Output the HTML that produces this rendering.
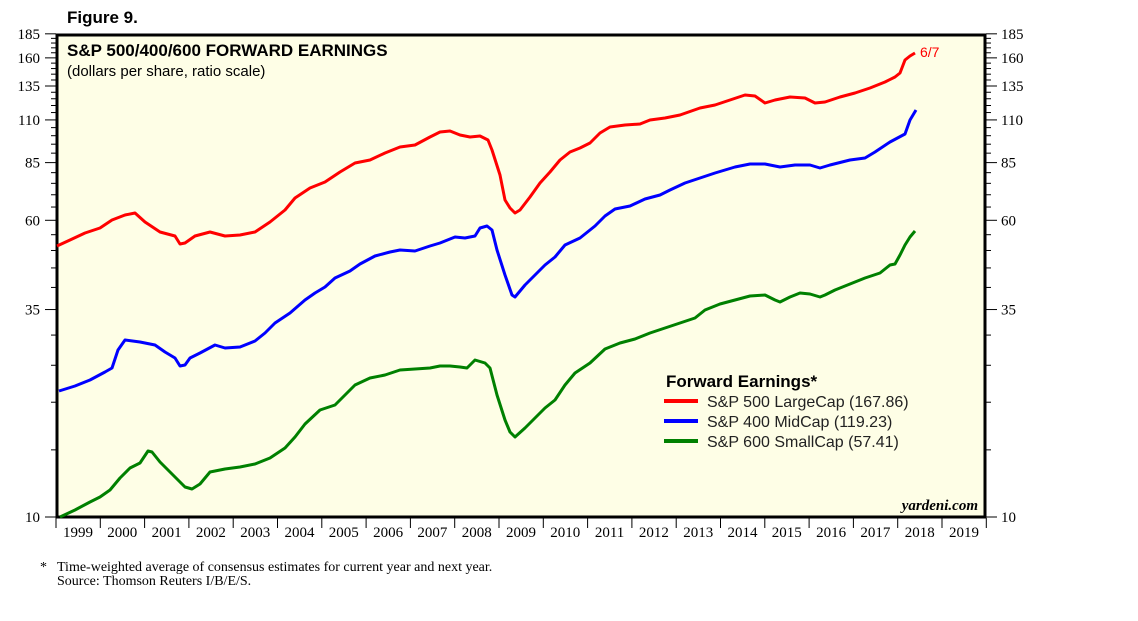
<!DOCTYPE html>
<html><head><meta charset="utf-8"><style>
body{margin:0;background:#fff;width:1138px;height:621px;overflow:hidden}
svg{display:block}
</style></head><body>
<svg width="1138" height="621" viewBox="0 0 1138 621" xmlns="http://www.w3.org/2000/svg">
<text x="67" y="23" font-family="Liberation Sans, sans-serif" font-weight="bold" font-size="17">Figure 9.</text>
<rect x="57" y="35" width="928" height="482" fill="#fefee6" stroke="#000" stroke-width="3"/>
<g id="ticks" stroke="#000" stroke-width="1"></g>
<g font-family="Liberation Serif, serif" font-size="15" fill="#000" id="ylab"></g>
<g font-family="Liberation Serif, serif" font-size="15" fill="#000" id="xlab"></g>
<text x="67" y="56" font-family="Liberation Sans, sans-serif" font-weight="bold" font-size="17">S&amp;P 500/400/600 FORWARD EARNINGS</text>
<text x="67" y="76" font-family="Liberation Sans, sans-serif" font-size="15">(dollars per share, ratio scale)</text>
<g fill="none" stroke-width="3" stroke-linejoin="round">
<polyline stroke="#ff0000" points="57,246 70,240 85,233 100,228 112,220 125,215 135,213 145,222 160,232 175,236 180,244 185,243 195,236 210,232 225,236 240,235 255,232 270,222 285,210 295,198 310,188 325,182 340,172 355,163 370,160 385,153 400,147 415,145 430,137 440,132 450,131 460,135 470,137 480,136 488,140 492,150 500,175 505,200 510,208 515,213 520,210 530,197 540,183 550,172 560,160 570,152 580,148 590,143 600,133 610,127 625,125 640,124 650,120 665,118 680,115 700,108 715,105 730,100 745,95 755,96 765,103 775,100 790,97 805,98 815,103 825,102 840,97 855,93 870,88 885,82 895,77 900,73 905,60 910,56 915,53"/>
<polyline stroke="#0000ff" points="59,391 75,386 90,380 105,372 112,368 118,350 125,340 140,342 155,345 165,352 175,358 180,366 185,365 190,358 200,353 215,345 225,348 240,347 255,341 265,333 275,323 290,313 305,300 315,293 325,287 335,278 350,271 360,264 375,256 390,252 400,250 415,251 430,246 440,243 455,237 465,238 475,236 480,228 487,226 492,230 497,250 505,275 512,295 515,297 525,285 535,275 545,265 555,257 565,245 580,238 595,226 605,216 615,209 630,206 645,199 660,195 670,190 685,183 700,178 715,173 735,167 750,164 765,164 780,167 795,165 810,165 820,168 830,165 850,160 865,158 875,152 890,142 905,134 910,120 916,110"/>
<polyline stroke="#008000" points="60,517 75,510 90,502 100,497 110,490 120,478 130,468 140,463 148,451 152,452 160,462 170,472 180,482 185,487 192,489 200,484 210,472 225,469 240,467 255,464 270,458 285,448 295,437 305,424 320,410 335,405 345,395 355,385 370,378 385,375 400,370 415,369 430,368 440,366 450,366 460,367 467,368 475,360 485,363 490,368 497,395 505,420 510,432 515,437 525,428 535,418 545,408 555,400 565,385 575,373 590,363 605,349 620,343 635,339 650,333 665,328 680,323 695,318 705,310 720,304 735,300 750,296 765,295 775,300 780,302 790,297 800,293 810,294 820,297 825,295 835,290 850,284 865,278 880,273 890,265 895,264 900,255 905,245 910,237 915,231"/>
</g>
<text x="920" y="57" font-family="Liberation Sans, sans-serif" font-size="14" fill="#ff0000">6/7</text>
<text x="666" y="387" font-family="Liberation Sans, sans-serif" font-weight="bold" font-size="17">Forward Earnings*</text>
<g stroke-width="4"><line x1="664" y1="401" x2="698" y2="401" stroke="#ff0000"/><line x1="664" y1="421" x2="698" y2="421" stroke="#0000ff"/><line x1="664" y1="441" x2="698" y2="441" stroke="#008000"/></g>
<g font-family="Liberation Sans, sans-serif" font-size="16" fill="#222">
<text x="707" y="407">S&amp;P 500 LargeCap (167.86)</text>
<text x="707" y="427">S&amp;P 400 MidCap (119.23)</text>
<text x="707" y="447">S&amp;P 600 SmallCap (57.41)</text>
</g>
<text x="978" y="510" text-anchor="end" font-family="Liberation Serif, serif" font-style="italic" font-weight="bold" font-size="15">yardeni.com</text>
<g font-family="Liberation Serif, serif" font-size="14">
<text x="40" y="571">*</text>
<text x="57" y="571">Time-weighted average of consensus estimates for current year and next year.</text>
<text x="57" y="585">Source: Thomson Reuters I/B/E/S.</text>
</g>
</svg>
<script>
var ns="http://www.w3.org/2000/svg";
function Y(v){return 517-381.3*Math.log10(v/10);}
var t=document.getElementById("ticks"),yl=document.getElementById("ylab"),xl=document.getElementById("xlab");
function L(x1,y1,x2,y2){var l=document.createElementNS(ns,"line");l.setAttribute("x1",x1);l.setAttribute("y1",y1);l.setAttribute("x2",x2);l.setAttribute("y2",y2);t.appendChild(l);}
function T(g,x,y,s,a){var e=document.createElementNS(ns,"text");e.setAttribute("x",x);e.setAttribute("y",y);if(a)e.setAttribute("text-anchor",a);e.textContent=s;g.appendChild(e);}
for(var v=10;v<=185;v+=5){var y=Y(v);var maj=[10,35,60,85,110,135,160,185].indexOf(v)>=0;
L(maj?45:51,y,56,y);L(986,y,maj?997:991,y);
if(maj){T(yl,40,y+5,v,"end");T(yl,1001,y+5,v);}}
for(var i=0;i<=21;i++){var x=56+i*44.3;L(x,518,x,528);if(i<21)T(xl,x+22,537,1999+i,"middle");}
</script>
</body></html>
